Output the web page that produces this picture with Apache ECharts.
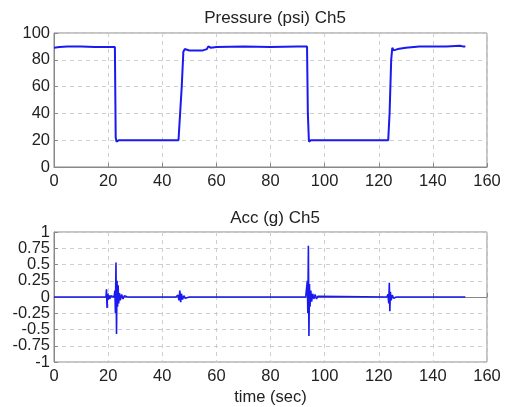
<!DOCTYPE html>
<html>
<head>
<meta charset="utf-8">
<script src="https://cdn.jsdelivr.net/npm/echarts@6/dist/echarts.min.js"></script>
<style>html,body{margin:0;padding:0;background:#fff}#c{width:508px;height:407px}</style>
</head>
<body>
<div id="c"></div>
<script>
var xTicks = [0, 20, 40, 60, 80, 100, 120, 140, 160];
var pressureTicks = [0, 20, 40, 60, 80, 100];
var accTicks = [-1, -0.75, -0.5, -0.25, 0, 0.25, 0.5, 0.75, 1];

var pressureData = [
  [0,89],[2,89.5],[5,90],[10,90],[15,89.5],[20,89.5],[22.5,89.5],[22.8,22],[23.1,19],[24,20],
  [30,20],[40,20],[46,20],[46.5,21],[47.2,60],[47.8,86],[48.3,88],[50,87],[55,87],[56.5,88],
  [57,90],[58,89],[60,89.5],[70,90],[80,89.5],[90,90],[93.5,90],[93.8,40],[94.2,19],[95,20],
  [110,20],[120,20],[123.5,20],[124,40],[124.6,80],[125,89],[125.5,87],[127,88],[130,89],
  [135,90],[140,90],[145,90],[150,90.5],[151,90],[152,90]
];

var accData = [
  [0,0],[19.2,0],[19.4,0.12],[19.6,-0.17],[19.8,0.05],[20,-0.04],[20.3,0.03],[20.6,-0.03],[21,0.02],[21.3,-0.01],
  [22.2,0],[22.5,0.1],[22.7,-0.25],[22.9,0.53],[23.1,-0.57],[23.3,0.25],[23.5,-0.15],[23.7,0.18],[23.9,-0.1],
  [24.2,0.06],[24.5,-0.05],[25,0.04],[25.5,-0.03],[26,0.02],[26.5,-0.01],[27,0.005],[28,0],
  [31,0],[31.2,0.006],[31.4,0],[35,0],[35.2,-0.006],[35.4,0],[38,0],[38.2,0.006],[38.4,0],[45,0],
  [45.8,0.03],[46.2,-0.05],[46.5,0.1],[46.8,-0.08],[47.1,0.05],[47.5,-0.04],[48,0.02],[48.5,-0.02],[49,0.01],[50,0],
  [86,0],[86.3,0.02],[86.6,-0.02],[86.9,0],[88.5,0],[88.7,0.02],[88.9,-0.02],[89.1,0],[93,0],
  [93.6,0.25],[93.8,-0.25],[94,0.79],[94.2,-0.6],[94.4,0.2],[94.6,-0.15],[94.9,0.1],[95.2,-0.07],[95.6,0.05],
  [96,-0.03],[96.5,0.04],[97,-0.03],[97.5,0.01],[98,0],
  [123,0],[123.4,0.04],[123.7,-0.1],[123.9,0.22],[124.1,-0.22],[124.3,0.08],[124.6,-0.05],[125,0.03],
  [125.5,-0.02],[126,0.01],[126.5,0],[152,0]
];

var FONT = 'Liberation Sans, Arial, sans-serif';
var lineColor = '#1a1aee';
var frameColor = '#888';

// split labels over two overlaid axes so neighbouring labels never collide
var accTicksEven = accTicks.filter(function (v, i) { return i % 2 === 0; });
var accTicksOdd = accTicks.filter(function (v, i) { return i % 2 === 1; });

function xAxis(idx, name) {
  return {
    type: 'value', gridIndex: idx, min: 0, max: 160, interval: 20,
    name: name || '', nameLocation: 'middle', nameGap: 27,
    nameTextStyle: {fontFamily: FONT, fontSize: 16.5, color: '#222'},
    axisLine: {show: true, lineStyle: {color: frameColor}},
    axisTick: {show: true, inside: true, length: 4, lineStyle: {color: frameColor}},
    axisLabel: {fontFamily: FONT, fontSize: 16.5, color: '#222', margin: 6,
      customValues: xTicks, hideOverlap: false, showMinLabel: true, showMaxLabel: true},
    splitLine: {show: true, lineStyle: {color: '#cfcfcf', type: [4, 4]}}
  };
}
function yAxis(idx, min, max, interval, tickVals, labelVals, primary) {
  return {
    type: 'value', gridIndex: idx, min: min, max: max, interval: interval, position: 'left',
    axisLine: {show: primary, lineStyle: {color: frameColor}},
    axisTick: {show: primary, inside: true, length: 4, lineStyle: {color: frameColor}, customValues: tickVals},
    axisLabel: {fontFamily: FONT, fontSize: 16.5, color: '#222', margin: 4,
      customValues: labelVals, hideOverlap: false, showMinLabel: true, showMaxLabel: true,
      formatter: function (v) { return String(v); }},
    splitLine: {show: primary, lineStyle: {color: '#cfcfcf', type: [4, 4]}}
  };
}

var chart = echarts.init(document.getElementById('c'), null, {renderer: 'canvas'});
chart.setOption({
  animation: false,
  backgroundColor: '#fff',
  title: [
    {text: 'Pressure (psi) Ch5', left: 270, top: 5, textAlign: 'center',
     textStyle: {fontFamily: FONT, fontSize: 17, fontWeight: 'normal', color: '#222'}},
    {text: 'Acc (g) Ch5', left: 270, top: 205, textAlign: 'center',
     textStyle: {fontFamily: FONT, fontSize: 17, fontWeight: 'normal', color: '#222'}}
  ],
  grid: [
    {left: 54, right: 21, top: 33, height: 134, show: true, borderColor: frameColor, borderWidth: 1, backgroundColor: 'transparent'},
    {left: 54, right: 21, top: 232, height: 134, show: true, borderColor: frameColor, borderWidth: 1, backgroundColor: 'transparent'}
  ],
  xAxis: [xAxis(0), xAxis(1, 'time (sec)')],
  yAxis: [
    yAxis(0, 0, 100, 20, pressureTicks, pressureTicks, true),
    yAxis(1, -1, 1, 0.25, accTicks, accTicksEven, true),
    yAxis(1, -1, 1, 0.25, accTicks, accTicksOdd, false)
  ],
  series: [
    {type: 'line', xAxisIndex: 0, yAxisIndex: 0, data: pressureData, showSymbol: false,
     lineStyle: {color: lineColor, width: 2}, itemStyle: {color: lineColor}},
    {type: 'line', xAxisIndex: 1, yAxisIndex: 1, data: accData, showSymbol: false,
     lineStyle: {color: lineColor, width: 1.6}, itemStyle: {color: lineColor}}
  ]
});
</script>
</body>
</html>
